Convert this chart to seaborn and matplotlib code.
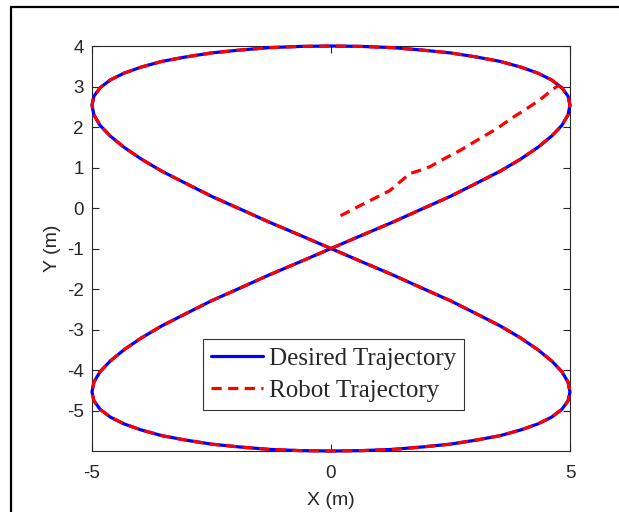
import matplotlib
matplotlib.use("Agg")
import matplotlib.pyplot as plt
from matplotlib.lines import Line2D
import seaborn as sns
import pandas as pd

# Desired figure-eight path (m), traced once around both lobes
desired_x = [
    0.00, 0.65, 1.29, 1.91, 2.50, 3.04, 3.54, 3.97, 4.33, 4.62, 4.83, 4.96,
    5.00, 4.96, 4.83, 4.62, 4.33, 3.97, 3.54, 3.04, 2.50, 1.91, 1.29, 0.65,
    0.00, -0.65, -1.29, -1.91, -2.50, -3.04, -3.54, -3.97, -4.33, -4.62, -4.83, -4.96,
    -5.00, -4.96, -4.83, -4.62, -4.33, -3.97, -3.54, -3.04, -2.50, -1.91, -1.29, -0.65,
    0.00, 0.65, 1.29, 1.91, 2.50, 3.04, 3.54, 3.97, 4.33, 4.62, 4.83, 4.96,
    5.00, 4.96, 4.83, 4.62, 4.33, 3.97, 3.54, 3.04, 2.50, 1.91, 1.29, 0.65,
    0.00, -0.65, -1.29, -1.91, -2.50, -3.04, -3.54, -3.97, -4.33, -4.62, -4.83, -4.96,
    -5.00, -4.96, -4.83, -4.62, -4.33, -3.97, -3.54, -3.04, -2.50, -1.91, -1.29, -0.65,
    0.00,
]
desired_y = [
    -1.00, -0.67, -0.35, -0.02, 0.29, 0.61, 0.91, 1.21, 1.50, 1.78, 2.04, 2.30,
    2.54, 2.76, 2.97, 3.16, 3.33, 3.48, 3.62, 3.73, 3.83, 3.90, 3.96, 3.99,
    4.00, 3.99, 3.96, 3.90, 3.83, 3.73, 3.62, 3.48, 3.33, 3.16, 2.97, 2.76,
    2.54, 2.30, 2.04, 1.78, 1.50, 1.21, 0.91, 0.61, 0.29, -0.02, -0.35, -0.67,
    -1.00, -1.33, -1.65, -1.98, -2.29, -2.61, -2.91, -3.21, -3.50, -3.78, -4.04, -4.30,
    -4.54, -4.76, -4.97, -5.16, -5.33, -5.48, -5.62, -5.73, -5.83, -5.90, -5.96, -5.99,
    -6.00, -5.99, -5.96, -5.90, -5.83, -5.73, -5.62, -5.48, -5.33, -5.16, -4.97, -4.76,
    -4.54, -4.30, -4.04, -3.78, -3.50, -3.21, -2.91, -2.61, -2.29, -1.98, -1.65, -1.33,
    -1.00,
]

# Robot start-up transient before it locks onto the path
approach_x = [0.20, 0.61, 1.03, 1.23, 1.44, 1.65, 1.86, 2.07, 2.42, 2.70,
              3.05, 3.47, 3.81, 4.09, 4.37, 4.65, 4.75]
approach_y = [-0.19, 0.06, 0.31, 0.43, 0.64, 0.85, 0.93, 1.02, 1.25, 1.42,
              1.67, 1.96, 2.24, 2.45, 2.67, 2.94, 3.02]
join_index = 14  # path sample where the robot meets the reference

robot_x = approach_x + desired_x[join_index:] + desired_x[1:join_index + 1]
robot_y = approach_y + desired_y[join_index:] + desired_y[1:join_index + 1]

x_ticks = [-5, 0, 5]
y_ticks = [-5, -4, -3, -2, -1, 0, 1, 2, 3, 4]

desired_df = pd.DataFrame({"x": desired_x, "y": desired_y})
robot_df = pd.DataFrame({"x": robot_x, "y": robot_y})

sns.set_theme(style="white")
plt.rcParams["font.family"] = ["Liberation Sans", "DejaVu Sans"]
text_col = "#262626"

fig = plt.figure(figsize=(6.19, 5.12), dpi=100)
ax = fig.add_axes([0.1486, 0.1191, 0.7722, 0.7910])

sns.lineplot(data=desired_df, x="x", y="y", sort=False, estimator=None,
             color="#0000ff", linewidth=2.3, label="Desired Trajectory",
             ax=ax, clip_on=False, zorder=3)
sns.lineplot(data=robot_df, x="x", y="y", sort=False, estimator=None,
             color="#ff0000", linewidth=2.3, linestyle=(0, (3.2, 2.0)),
             label="Robot Trajectory", ax=ax, clip_on=False, zorder=4)

ax.set_xlim(-5, 5)
ax.set_ylim(-6, 4)
ax.set_xticks(x_ticks)
ax.set_yticks(y_ticks)
ax.set_xticklabels([str(v) for v in x_ticks])
ax.set_yticklabels([str(v) for v in y_ticks])

ax.tick_params(direction="in", length=5, width=0.8, colors=text_col,
               labelsize=13.5, top=True, right=True, bottom=True, left=True)
ax.tick_params(axis="x", pad=10)
ax.tick_params(axis="y", pad=6)
for s in ax.spines.values():
    s.set_visible(True)
    s.set_color(text_col)
    s.set_linewidth(0.8)

ax.set_xlabel("X (m)", fontsize=14, color=text_col, labelpad=7)
ax.set_ylabel("Y (m)", fontsize=14, color=text_col, labelpad=4)

leg = ax.legend(loc="upper left", bbox_to_anchor=(0.232, 0.2765),
                borderaxespad=0, frameon=True, fancybox=False, shadow=False,
                framealpha=1, edgecolor="#333333",
                prop={"family": ["Liberation Serif", "DejaVu Serif"], "size": 18},
                handlelength=2.1, handletextpad=0.22, borderpad=0.32,
                labelspacing=0.4)
leg.get_frame().set_linewidth(0.8)

# Surrounding window frame along the top and left edges
fig.add_artist(Line2D([11 / 619, 1.0], [1 - 6.5 / 512, 1 - 6.5 / 512],
                      transform=fig.transFigure, color="black", linewidth=1.6))
fig.add_artist(Line2D([11 / 619, 11 / 619], [0.0, 1 - 6.5 / 512],
                      transform=fig.transFigure, color="black", linewidth=1.6))

fig.savefig("out.png", dpi=100)
